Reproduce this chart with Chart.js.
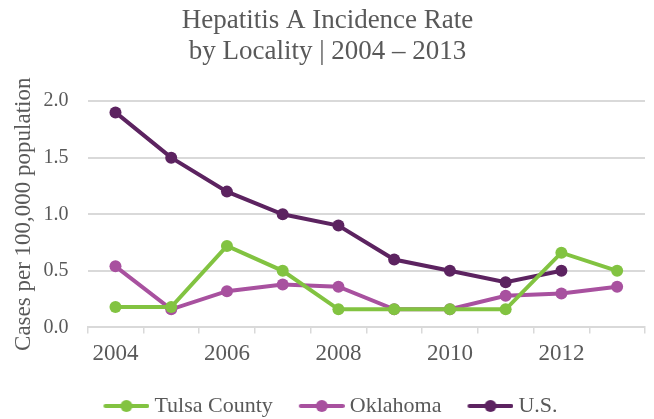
<!DOCTYPE html>
<html>
<head>
<meta charset="utf-8">
<script src="https://cdn.jsdelivr.net/npm/chart.js@4"></script>
<style>
  html, body { margin: 0; padding: 0; background: #fff; }
  #wrap { width: 654px; height: 419px; }
</style>
</head>
<body>
<div id="wrap"><canvas id="chart" width="654" height="419"></canvas></div>
<script>
var years = ['2004', '2005', '2006', '2007', '2008', '2009', '2010', '2011', '2012', '2013'];
var tulsaCounty = [0.18, 0.18, 0.72, 0.50, 0.16, 0.16, 0.16, 0.16, 0.66, 0.50];
var oklahoma = [0.54, 0.16, 0.32, 0.38, 0.36, 0.16, 0.16, 0.28, 0.30, 0.36];
var unitedStates = [1.9, 1.5, 1.2, 1.0, 0.9, 0.6, 0.5, 0.4, 0.5, null];

var serif = "'Times New Roman', 'Liberation Serif', serif";
var textGrey = '#595959';

// legend marker: a short line with a dot; the canvas is wider than the
// legend box so the mark sits close to its text
function legendMark(color) {
    var c = document.createElement('canvas');
    c.width = 58;
    c.height = 14;
    var ctx = c.getContext('2d');
    ctx.strokeStyle = color;
    ctx.lineWidth = 4;
    ctx.lineCap = 'round';
    ctx.beginPath();
    ctx.moveTo(14, 7);
    ctx.lineTo(56, 7);
    ctx.stroke();
    ctx.fillStyle = color;
    ctx.beginPath();
    ctx.arc(35, 7, 6, 0, Math.PI * 2);
    ctx.fill();
    return c;
}

function series(label, data, color) {
    return {
        label: label,
        data: data,
        borderColor: color,
        backgroundColor: color,
        borderWidth: 4,
        pointRadius: 6,
        pointHoverRadius: 6,
        pointBorderWidth: 0,
        lineTension: 0,
        spanGaps: false
    };
}

new Chart(document.getElementById('chart').getContext('2d'), {
    type: 'line',
    data: {
        labels: years,
        datasets: [
            series('Tulsa County', tulsaCounty, '#82c341'),
            series('Oklahoma', oklahoma, '#a8519f'),
            series('U.S.', unitedStates, '#5c2360')
        ]
    },
    options: {
        responsive: false,
        animation: false,
        layout: { padding: { left: 10, right: 9, top: 0, bottom: -8 } },
        plugins: {
            tooltip: { enabled: false },
            title: {
                display: true,
                text: ['Hepatitis A Incidence Rate', 'by Locality | 2004 \u2013 2013'],
                color: textGrey,
                font: { family: serif, size: 27, weight: 'normal', lineHeight: 1.15 },
                padding: { top: 5, bottom: 34 }
            },
            legend: {
                position: 'bottom',
                labels: {
                    color: textGrey,
                    font: { family: serif, size: 22 },
                    usePointStyle: true,
                    pointStyleWidth: 46,
                    padding: 20,
                    generateLabels: function(chart) {
                        var items = Chart.defaults.plugins.legend.labels.generateLabels(chart);
                        items.forEach(function(item, i) {
                            item.pointStyle = legendMark(chart.data.datasets[i].borderColor);
                        });
                        return items;
                    }
                }
            }
        },
        scales: {
            x: {
                offset: true,
                grid: {
                    offset: true,
                    drawOnChartArea: false,
                    drawTicks: true,
                    tickLength: 6,
                    color: '#d9d9d9',
                    lineWidth: 1.5
                },
                border: { color: '#d9d9d9', width: 2 },
                ticks: {
                    autoSkip: false,
                    maxRotation: 0,
                    color: textGrey,
                    font: { family: serif, size: 23 },
                    padding: 7,
                    callback: function(value, index) {
                        return index % 2 === 0 ? this.getLabelForValue(value) : '';
                    }
                }
            },
            y: {
                min: 0,
                max: 2,
                grid: { color: '#d9d9d9', lineWidth: 2, drawTicks: false },
                border: { display: false },
                ticks: {
                    stepSize: 0.5,
                    color: textGrey,
                    font: { family: serif, size: 20 },
                    padding: 19,
                    callback: function(value) { return value.toFixed(1); }
                },
                title: {
                    display: true,
                    text: 'Cases per 100,000 population',
                    color: textGrey,
                    font: { family: serif, size: 23 },
                    padding: { top: 0, bottom: -13 }
                }
            }
        }
    }
});
</script>
</body>
</html>
